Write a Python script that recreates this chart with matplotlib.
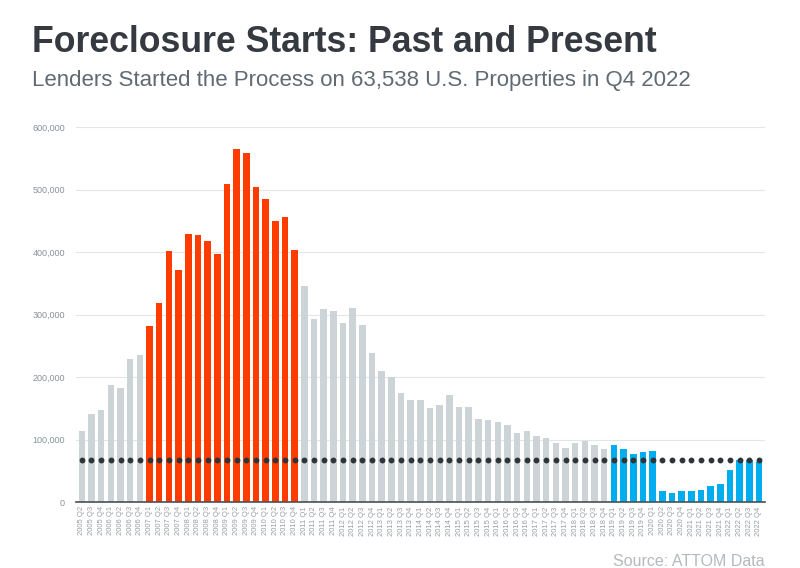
import matplotlib
matplotlib.use("Agg")
import matplotlib.pyplot as plt
from matplotlib.ticker import FuncFormatter

plt.rcParams['font.family'] = ['Liberation Sans', 'DejaVu Sans']

quarters = []
for yr in range(2005, 2023):
    for q in range(1, 5):
        if yr == 2005 and q == 1:
            continue
        quarters.append(f"{yr} Q{q}")

starts = [
    114000, 140600, 147000,                      # 2005
    187900, 183100, 228400, 235800,              # 2006
    281100, 318900, 401900, 371600,              # 2007
    429100, 427500, 418500, 397200,              # 2008
    509000, 564900, 558500, 504800,              # 2009
    485000, 450500, 455800, 404200,              # 2010
    345500, 292800, 308800, 305100,              # 2011
    286400, 310400, 283700, 238500,              # 2012
    209300, 199700, 174600, 163900,              # 2013
    163900, 151100, 154900, 171900,              # 2014
    152700, 152700, 133100, 131000,              # 2015
    128300, 124000, 110700, 113900,              # 2016
    105900, 102700, 95200, 86700,                # 2017
    94700, 97400, 92000, 85100,                  # 2018
    91000, 85600, 77600, 80300,                  # 2019
    81900, 18000, 14900, 18000,                  # 2020
    18000, 19600, 26000, 29700,                  # 2021
    51100, 67000, 67000, 63538,                  # 2022
]
reference_level = 67000

gray = "#cdd4d7"
red = "#ff3c00"
blue = "#00aeef"

colors = []
for lab in quarters:
    yr = int(lab[:4])
    if 2007 <= yr <= 2010:
        colors.append(red)
    elif yr >= 2019:
        colors.append(blue)
    else:
        colors.append(gray)

fig = plt.figure(figsize=(8, 5.68), dpi=100)
ax = fig.add_axes([0.095, 0.116, 0.861, 0.66])

x = list(range(len(quarters)))
ax.bar(x, starts, width=0.68, color=colors, zorder=2)
ax.plot(x, [reference_level] * len(x), linestyle="none", marker="o",
        markersize=3.2, color="#2e3438", zorder=3)

ax.set_xlim(-0.6, len(x) - 0.4)
ax.set_ylim(0, 600000)
ax.set_yticks(range(0, 600001, 100000))
ax.yaxis.set_major_formatter(FuncFormatter(lambda v, p: f"{int(v):,}"))
ax.set_xticks(x)
ax.set_xticklabels(quarters, rotation=90, fontsize=5.5, color="#979ea3")
ax.tick_params(axis="y", labelsize=6.5, colors="#8a9196", length=0, pad=8)
ax.tick_params(axis="x", length=0, pad=3)
ax.grid(axis="y", color="#e3e6e8", linewidth=0.8, zorder=0)

for side in ["top", "right", "left"]:
    ax.spines[side].set_visible(False)
ax.spines["bottom"].set_color("#4a5055")
ax.spines["bottom"].set_linewidth(1.2)
ax.spines["bottom"].set_zorder(4)

fig.text(0.04, 0.926, "Foreclosure Starts: Past and Present", fontsize=25.7,
         fontweight="bold", color="#343a40", va="center")
fig.text(0.04, 0.859, "Lenders Started the Process on 63,538 U.S. Properties in Q4 2022",
         fontsize=16, color="#5f6a72", va="center")
fig.text(0.956, 0.011, "Source: ATTOM Data", fontsize=11.5, color="#b3b9bd",
         ha="right", va="center")

fig.savefig("out.png", dpi=100)
